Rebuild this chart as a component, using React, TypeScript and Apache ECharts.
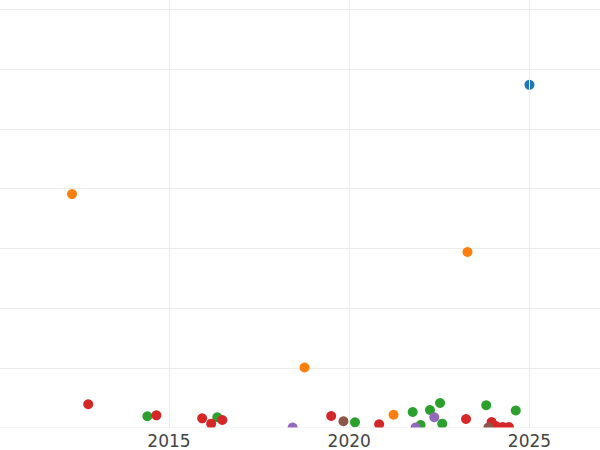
import React, { useEffect, useRef } from "react";
import * as echarts from "echarts";

// Year (x) and value (y) per series
const blueX = [2025.0];
const blueY = [57.4];

const orangeX = [2012.31, 2023.28, 2018.76, 2021.23];
const orangeY = [39.1, 29.4, 10.05, 2.14];

const greenX = [2014.4, 2016.34, 2020.16, 2021.76, 2022.24, 2022.52, 2021.98, 2022.58, 2023.8, 2024.62];
const greenY = [1.88, 1.71, 0.87, 2.6, 2.93, 4.1, 0.42, 0.64, 3.72, 2.85];

const redX = [2012.76, 2014.65, 2015.92, 2016.17, 2016.48, 2019.5, 2020.83, 2023.24, 2023.95, 2024.07, 2024.26, 2024.43];
const redY = [3.89, 2.04, 1.54, 0.64, 1.26, 1.93, 0.54, 1.42, 0.92, 0.25, 0.08, 0.08];

const purpleX = [2018.43, 2022.36, 2021.84];
const purpleY = [0, 1.71, 0];

const brownX = [2019.84, 2023.86];
const brownY = [1.04, 0];

// x range spans 2010..2030 (gridlines every 5 years); only these labels are visible
const xTicks = [2010, 2030];
const xLabels = [2015, 2020, 2025];

const colors = ["#1f77b4", "#ff7f0e", "#2ca02c", "#d62728", "#9467bd", "#8c564b"];
const seriesList = [
  { name: "A", xs: blueX, ys: blueY },
  { name: "B", xs: orangeX, ys: orangeY },
  { name: "C", xs: greenX, ys: greenY },
  { name: "D", xs: redX, ys: redY },
  { name: "E", xs: purpleX, ys: purpleY },
  { name: "F", xs: brownX, ys: brownY },
];

export default function App() {
  const ref = useRef<HTMLDivElement>(null);
  useEffect(() => {
    if (!ref.current) return;
    const chart = echarts.init(ref.current, undefined, { renderer: "svg" });
    chart.setOption({
      animation: false,
      backgroundColor: "#ffffff",
      grid: {
        left: -11.25,
        right: -109.7,
        top: -50.1,
        bottom: 22.5,
        containLabel: false,
        outerBoundsMode: "none",
      },
      xAxis: {
        type: "value",
        min: xTicks[0],
        max: xTicks[1],
        interval: 5,
        z: 10,
        axisLine: { show: false },
        axisTick: { show: false },
        splitLine: { show: true, lineStyle: { color: "#ebebeb", width: 1 } },
        axisLabel: {
          color: "#444444",
          fontSize: 17,
          fontFamily: "DejaVu Sans",
          margin: 5,
          formatter: (v: number) => (xLabels.indexOf(Math.round(v)) >= 0 ? String(Math.round(v)) : ""),
        },
      },
      yAxis: {
        type: "value",
        min: 0,
        max: 80,
        interval: 10,
        axisLine: { show: false },
        axisTick: { show: false },
        axisLabel: { show: false },
        splitLine: { show: true, lineStyle: { color: "#ebebeb", width: 1 } },
      },
      graphic: [
        {
          type: "rect",
          z: 5,
          shape: { x: 0, y: 427.5, width: 600, height: 30 },
          style: { fill: "#ffffff" },
          silent: true,
        },
      ],
      series: seriesList.map((s, i) => ({
        name: s.name,
        type: "scatter",
        symbol: "circle",
        symbolSize: 10,
        clip: false,
        z: 2,
        itemStyle: { color: colors[i], opacity: 1 },
        data: s.xs.map((x, j) => [x, s.ys[j]]),
      })),
    });
    return () => chart.dispose();
  }, []);
  return <div ref={ref} style={{ width: 600, height: 450, position: "absolute", left: 0, top: 0 }} />;
}
